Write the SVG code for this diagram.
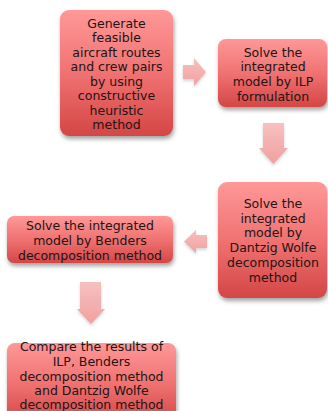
<svg xmlns="http://www.w3.org/2000/svg" width="328" height="411" viewBox="0 0 328 411">
<defs>
<linearGradient id="boxg" x1="0" y1="0" x2="0" y2="1">
<stop offset="0" stop-color="#ff9898"/>
<stop offset="0.5" stop-color="#f07272"/>
<stop offset="1" stop-color="#d44646"/>
</linearGradient>
<linearGradient id="arrg" x1="0" y1="0" x2="0" y2="1">
<stop offset="0" stop-color="#f8c0c0"/>
<stop offset="1" stop-color="#f0a0a0"/>
</linearGradient>
<filter id="sh" x="-20%" y="-20%" width="140%" height="150%">
<feDropShadow dx="1" dy="3" stdDeviation="2" flood-color="#555" flood-opacity="0.55"/>
</filter>
<filter id="ash" x="-30%" y="-30%" width="160%" height="160%">
<feDropShadow dx="0" dy="2" stdDeviation="1.5" flood-color="#888" flood-opacity="0.35"/>
</filter>
</defs>
<style>
.box{fill:url(#boxg);filter:url(#sh)}
.arr{fill:url(#arrg);filter:url(#ash)}
text{font-family:"DejaVu Sans",sans-serif;font-size:12.5px;fill:#221414;text-anchor:middle}
</style>
<rect width="328" height="411" fill="#ffffff"/>
<g id="connectors">
<path class="arr" d="M183,65 H194 V58 L206,72 L194,86 V79 H183 Z"/>
<path class="arr" d="M263,123 H284 V148 H288 L273.5,164 L259,148 H263 Z"/>
<path class="arr" d="M207,235 H196 V230 L184,241.5 L196,253 V248 H207 Z"/>
<path class="arr" d="M80,282 H101 V309 H105 L91,324 L77,309 H80 Z"/>
</g>
<g id="node1">
<rect class="box" x="60" y="10" width="113" height="126" rx="9"/>
<text x="116.5" y="27.5">Generate</text>
<text x="116.5" y="42">feasible</text>
<text x="116.5" y="56.5">aircraft routes</text>
<text x="116.5" y="71">and crew pairs</text>
<text x="116.5" y="85.5">by using</text>
<text x="116.5" y="100">constructive</text>
<text x="116.5" y="114.5">heuristic</text>
<text x="116.5" y="129">method</text>
</g>
<g id="node2">
<rect class="box" x="218" y="39" width="109" height="68" rx="8"/>
<text x="273" y="56.5">Solve the</text>
<text x="273" y="71">integrated</text>
<text x="273" y="85.5">model by ILP</text>
<text x="273" y="100.5">formulation</text>
</g>
<g id="node3">
<rect class="box" x="218" y="182" width="109" height="116" rx="9"/>
<text x="273" y="207.5">Solve the</text>
<text x="273" y="222.5">integrated</text>
<text x="273" y="237">model by</text>
<text x="273" y="252">Dantzig Wolfe</text>
<text x="273" y="267">decomposition</text>
<text x="273" y="281.5">method</text>
</g>
<g id="node4">
<rect class="box" x="7" y="216" width="166" height="47" rx="7"/>
<text x="90" y="229.5">Solve the integrated</text>
<text x="90" y="244.5">model by Benders</text>
<text x="90" y="259.5">decomposition method</text>
</g>
<g id="node5">
<rect class="box" x="7" y="343" width="169" height="80" rx="8"/>
<text x="91.5" y="351">Compare the results of</text>
<text x="91.5" y="366">ILP, Benders</text>
<text x="91.5" y="380.5">decomposition method</text>
<text x="91.5" y="395">and Dantzig Wolfe</text>
<text x="91.5" y="409">decomposition method</text>
</g>
</svg>
